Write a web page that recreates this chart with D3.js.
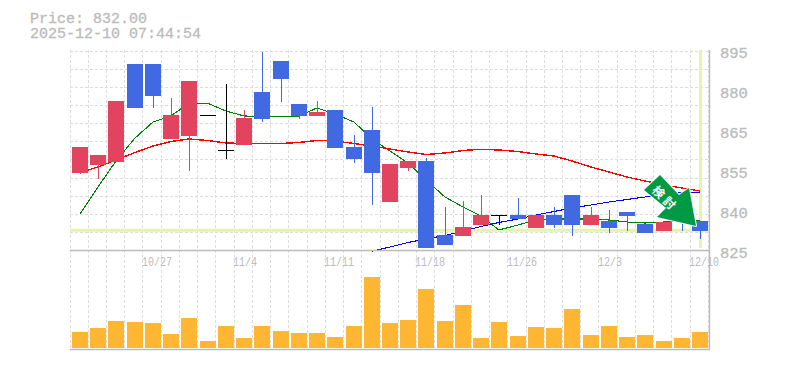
<!DOCTYPE html>
<html>
<head>
<meta charset="utf-8">
<script src="https://cdn.jsdelivr.net/npm/d3@7"></script>
<style>
  html, body { margin: 0; padding: 0; background: #fff; }
  svg { display: block; }
</style>
</head>
<body>
<svg id="chart" width="785" height="370"></svg>
<script>
const priceLabel = 'Price: 832.00';
const timeLabel = '2025-12-10 07:44:54';
const currentPrice = 831.9;

const opens  = [851.95,854.75,855.8,890.1,890.1,863.85,864.9,872.25,860,861.75,880.3,891.15,876.1,871.9,874,861.05,867,841.8,853.7,856.15,830.25,829.9,833.75,837.25,837.25,832.7,837.25,844.25,833.75,835.15,838.3,834.1,831.65,838.3,835.15];
const highs  = [861.05,858.25,877.15,890.1,890.1,878.2,884.15,872.25,883.1,874,894.3,891.15,876.1,877.15,874,865.25,875.05,855.1,856.15,857.2,840.05,842.15,844.25,837.25,843.2,837.25,840.05,844.25,840.05,839,838.3,834.1,834.8,838.3,835.15];
const lows   = [851.6,849.85,855.8,874.7,874.7,863.85,852.65,872.25,856.85,861.75,869.8,876.8,870.85,871.9,860.7,855.45,840.75,841.8,852.65,825.7,826.75,829.9,833.75,833.75,835.85,832.7,832.7,829.9,833.75,830.95,831.65,830.95,831.65,831.65,829];
const closes = [861.05,858.25,877.15,874.7,878.9,872.25,884.15,872.25,860,871.2,870.85,884.85,871.9,873.3,860.7,856.85,851.95,855.1,856.15,825.7,826.75,833.05,837.25,837.25,835.85,837.25,833.75,833.75,837.25,832.7,836.9,830.95,834.8,834.8,831.65];
const volumes = [16,20,27,26,25,14,30,7,22,10,22,17,15,15,11,22,71,25,28,59,27,43,10,26,12,21,20,39,13,22,11,13,7,10,16];

const maShort = [837.6,847.05,856.15,864.2,869.8,871.9,876.45,876.3,873.65,871.9,871.75,871.75,871.9,874.7,872.6,869.8,863.85,859.65,855.45,849.5,843.55,840.05,836.9,832,833.75,835.5,835.85,835.85,835.85,835.5,834.8,834.45,834.8,835.15,835.15];
const maMid = [852.13,854.05,856.5,859.13,861.4,862.98,863.85,863.33,862.45,862.28,862.28,862.28,862.63,863.33,863.15,862.28,861.4,860.35,859.3,858.43,858.95,859.83,860.25,860,859.48,858.6,857.9,856.15,854.05,852.3,850.55,849.15,847.75,846.7,845.65];
const maLong = [null,null,null,null,null,null,null,null,null,null,null,null,null,null,null,null,824.55,826.05,827.63,828.85,830.08,831.65,833.23,834.63,835.85,837.25,838.48,839.7,840.75,841.8,842.68,843.55,844.25,845.13,845.13];

const dateLabels = ['10/27','11/4','11/11','11/18','11/26','12/3','12/10'];
const dateSlots = [4,9,14,19,24,29,34];
const priceTicks = [895,881,867,853,839,825];
const priceTickLabels = ['895','880','865','855','840','825'];
const arrowText = '検討';

const GREY = '#bbbbbb', GRID = '#dddddd', UP = '#e2435f', DOWN = '#4169e1';
const BAND = '#e3f5a9', FONT = '"Liberation Mono", monospace';

const svg = d3.select('#chart');
const idx = d3.range(opens.length);

const x = d3.scaleBand().domain(idx).range([70.42, 708.82]);
const y = d3.scaleLinear().domain([825, 895]).range([250, 50]);
const yVol = d3.scaleLinear().domain([0, d3.max(volumes)]).range([348, 277]);
const bodyX = i => Math.floor(x(i)) + 2;
const midX = i => bodyX(i) + 8;

// grid, vertical lines run on their own 18.24 step
const gridX = d3.range(36).map(i => Math.floor(70 + i * x.step()) + 0.5);
const gridY = d3.range(11).map(i => Math.round(50.7 + i * 18.12) + 0.5);
const grid = svg.append('g').attr('stroke', GRID).attr('stroke-dasharray', '3,2').attr('shape-rendering', 'crispEdges');
gridX.forEach(gx => {
  grid.append('line').attr('x1', gx).attr('x2', gx).attr('y1', 50).attr('y2', 348);
});
gridY.forEach(gy => {
  grid.append('line').attr('x1', 70).attr('x2', 709).attr('y1', gy).attr('y2', gy);
});

// current price / latest time bands
svg.append('rect').attr('x', 70).attr('width', 639).attr('y', y(currentPrice) - 1.5).attr('height', 3).attr('fill', BAND);
svg.append('rect').attr('x', 699).attr('width', 3).attr('y', 50).attr('height', 198).attr('fill', BAND);

// moving averages
const line = d3.line()
  .defined(d => d !== null)
  .x((d, i) => midX(i))
  .y(d => y(d));
[[maShort, '#008000', 1.1], [maMid, '#ff0000', 1.4], [maLong, '#0000ff', 1.1]].forEach(([s, c, w]) => {
  svg.append('path').attr('d', line(s)).attr('fill', 'none').attr('stroke', c)
    .attr('stroke-width', w).attr('shape-rendering', 'crispEdges');
});

// candles
idx.forEach(i => {
  const c = closes[i] > opens[i] ? UP : closes[i] < opens[i] ? DOWN : '#000000';
  svg.append('line')
    .attr('x1', midX(i) + 0.5).attr('x2', midX(i) + 0.5)
    .attr('y1', Math.round(y(highs[i]))).attr('y2', Math.round(y(lows[i])))
    .attr('stroke', c);
  const top = Math.round(y(Math.max(opens[i], closes[i])));
  const bot = Math.round(y(Math.min(opens[i], closes[i])));
  if (top === bot) {
    svg.append('line').attr('x1', bodyX(i)).attr('x2', bodyX(i) + 16)
      .attr('y1', top + 0.5).attr('y2', top + 0.5).attr('stroke', c);
  } else {
    svg.append('rect').attr('x', bodyX(i)).attr('width', 16).attr('y', top).attr('height', bot - top).attr('fill', c);
  }
});

// volume
svg.selectAll('.vol').data(volumes).join('rect')
  .attr('class', 'vol')
  .attr('x', (d, i) => bodyX(i))
  .attr('width', 16)
  .attr('y', d => yVol(d))
  .attr('height', d => 348 - yVol(d))
  .attr('fill', '#ffb733');

// frame
svg.append('path').attr('d', 'M70,250.5H709.5M70,349.5H709.5M709.5,50V350')
  .attr('fill', 'none').attr('stroke', GREY).attr('stroke-width', 1.4);

// price axis
const axisR = d3.axisRight(y).tickValues(priceTicks).tickSize(0).tickPadding(0)
  .tickFormat((d, i) => priceTickLabels[i]);
const gAxis = svg.append('g').attr('transform', 'translate(720,0)').call(axisR);
gAxis.select('.domain').remove();
gAxis.selectAll('text').attr('fill', GREY).attr('stroke', GREY).attr('stroke-width', 0.3)
  .attr('font-family', FONT).attr('font-size', 15.5).attr('dy', '0.32em')
  .attr('transform', 'translate(0,3)');

// date labels
dateLabels.forEach((t, i) => {
  svg.append('text').attr('x', Math.floor(x(dateSlots[i])) - 1).attr('y', 266)
    .attr('fill', GREY).attr('font-family', FONT).attr('font-size', 12)
    .attr('textLength', t.length * 6).attr('lengthAdjust', 'spacingAndGlyphs').text(t);
});

// header
[[priceLabel, 23], [timeLabel, 38]].forEach(([t, ty]) => {
  svg.append('text').attr('x', 30).attr('y', ty).attr('fill', GREY).attr('stroke', GREY).attr('stroke-width', 0.3)
    .attr('font-family', FONT).attr('font-size', 15).text(t);
});

// arrow badge
const arrow = d3.line()([[660,175],[679,195],[689,188],[696,226],[657,217],[666,208],[644,190]]) + 'Z';
svg.append('path').attr('d', arrow).attr('fill', '#009944').attr('stroke', '#ffffff').attr('stroke-width', 2).attr('stroke-linejoin', 'round').attr('paint-order', 'stroke');
svg.append('text').attr('transform', 'translate(666,198) rotate(45)')
  .attr('text-anchor', 'middle').attr('dominant-baseline', 'central')
  .attr('fill', '#ffffff').attr('font-family', '"Noto Sans CJK JP"').attr('font-weight', 700).attr('font-size', 12)
  .attr('letter-spacing', 3.5)
  .text(arrowText);
</script>
</body>
</html>
